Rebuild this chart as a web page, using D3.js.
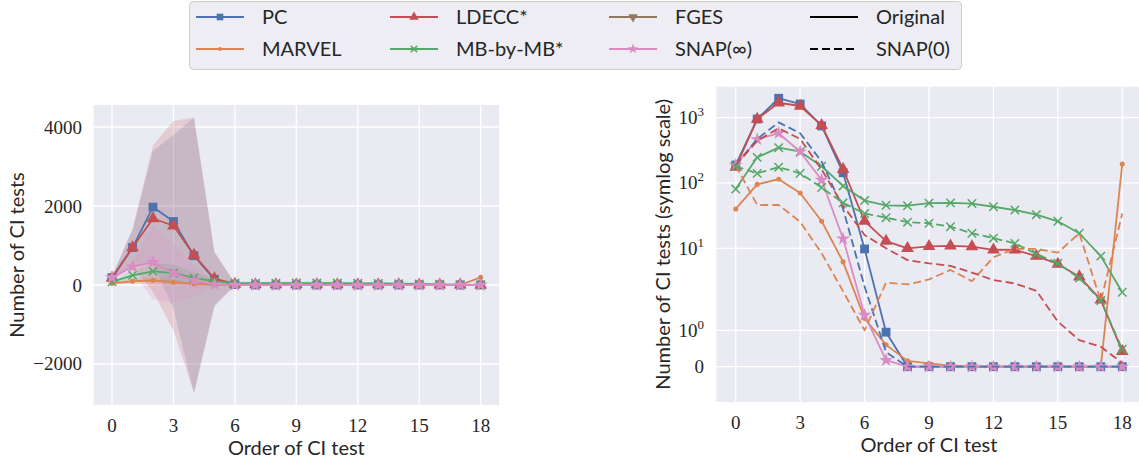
<!DOCTYPE html>
<html>
<head>
<meta charset="utf-8">
<script src="https://cdn.jsdelivr.net/npm/d3@7"></script>
<style>
  body { margin: 0; background: #fff; }
  svg text { fill: #262626; }
  .sans { font-family: 'Lato', sans-serif; font-size: 20px; }
  .serif { font-family: 'Liberation Serif', serif; font-size: 19px; }
</style>
</head>
<body>
<svg id="chart" width="1139" height="461"></svg>
<script>
const orders = [0, 1, 2, 3, 4, 5, 6, 7, 8, 9, 10, 11, 12, 13, 14, 15, 16, 17, 18]
const xTicks = [0, 3, 6, 9, 12, 15, 18]
const leftYTicks = [-2000, 0, 2000, 4000]
const rightYTicks = [0, 1, 10, 100, 1000]
const rightYTickBase = ['0', '10', '10', '10', '10']
const rightYTickExp = ['', '0', '1', '2', '3']
const legendOrder = ['PC', 'MARVEL', 'LDECC*', 'MB-by-MB*', 'FGES', 'SNAP(\u221e)']

// mean number of CI tests per order, original algorithms
const pcOriginal = [188, 948, 1972, 1607, 743, 143, 9.8, 0.95, 0, 0, 0, 0, 0, 0, 0, 0, 0, 0, 0]
const marvelOriginal = [40, 95, 114, 70, 26, 6.2, 1.33, 0.6, 0.16, 0.09, 0.03, 0, 0, 0, 0, 0, 0, 0, 195]
const ldeccOriginal = [174, 947, 1683, 1500, 760, 162, 26, 12.9, 10.0, 10.7, 10.9, 10.6, 9.5, 9.5, 7.6, 5.76, 3.68, 1.84, 0.42]
const mbOriginal = [80.6, 246, 346, 300, 180, 90, 53.7, 45.5, 44.8, 49, 49.5, 48.4, 43.2, 38.5, 32.7, 25.9, 17, 7.6, 2.13]
const snapInfOriginal = [188, 463, 576, 300, 111, 14, 1.42, 0.18, 0, 0, 0, 0, 0, 0, 0, 0, 0, 0, 0]

// same algorithms started from SNAP(0)
const pcSnap0 = [188, 470, 843, 576, 211, 40, 2.6, 0.4, 0, 0, 0, 0, 0, 0, 0, 0, 0, 0, 0]
const marvelSnap0 = [185, 46, 46, 25.5, 8.4, 2.2, 1.0, 3.0, 2.8, 3.35, 4.67, 3.15, 7.3, 9.8, 9.8, 8.6, 17, 1.8, 34]
const ldeccSnap0 = [185, 440, 685, 470, 160, 45, 16, 10, 6.6, 5.9, 5.4, 4.25, 3.27, 2.9, 2.24, 1.24, 0.73, 0.55, 0.1]
const mbSnap0 = [180, 140, 174, 140, 85, 49.6, 34, 29.4, 25.1, 24.2, 21.4, 17, 14.3, 11.9, 8.2, 5.9, 3.5, 1.82, 0.48]

// standard deviation bands (left panel)
const pcStd = [40, 440, 1420, 2200, 3490, 700, 15, 3, 0, 0, 0, 0, 0, 0, 0, 0, 0, 0, 0]
const marvelStd = [25, 70, 90, 70, 40, 10, 3, 1, 0.5, 0.3, 0.1, 0, 0, 0, 0, 0, 0, 0, 0]
const ldeccStd = [40, 480, 1850, 2650, 3480, 660, 40, 20, 15, 15, 15, 15, 12, 12, 10, 8, 6, 4, 1]
const mbStd = [30, 120, 220, 210, 140, 70, 40, 35, 35, 40, 40, 40, 35, 30, 25, 20, 15, 8, 3]
const snapInfStd = [40, 140, 950, 740, 410, 40, 3, 1, 0, 0, 0, 0, 0, 0, 0, 0, 0, 0, 0]

const algos = [
    {name: 'PC', color: '#4C72B0', marker: 'square', orig: pcOriginal, snap0: pcSnap0, std: pcStd},
    {name: 'MARVEL', color: '#DD8452', marker: 'circle', orig: marvelOriginal, snap0: marvelSnap0, std: marvelStd},
    {name: 'LDECC*', color: '#C44E52', marker: 'triangle', orig: ldeccOriginal, snap0: ldeccSnap0, std: ldeccStd},
    {name: 'FGES', color: '#937860', marker: 'triangleDown', orig: null, snap0: null, std: null},
    {name: 'MB-by-MB*', color: '#55A868', marker: 'x', orig: mbOriginal, snap0: mbSnap0, std: mbStd},
    {name: 'SNAP(\u221e)', color: '#DA8BC3', marker: 'star', orig: snapInfOriginal, snap0: null, std: snapInfStd}
]

const svg = d3.select('#chart')
const bg = '#EAEAF2'
const lineWidth = 1.8
const dash = '8,4'

function drawMarker(g, type, x, y, color, scale = 1) {
    if (type === 'x') {
        const r = 4.2 * scale
        g.append('path')
            .attr('d', `M${x - r},${y - r}L${x + r},${y + r}M${x - r},${y + r}L${x + r},${y - r}`)
            .attr('stroke', color)
            .attr('stroke-width', 1.5)
            .attr('fill', 'none')
        return
    }
    let sym = d3.symbolSquare, size = 78, rot = 0
    if (type === 'circle') { sym = d3.symbolCircle; size = 20 }
    if (type === 'triangle') { sym = d3.symbolTriangle; size = 70 }
    if (type === 'triangleDown') { sym = d3.symbolTriangle; size = 70; rot = 180 }
    if (type === 'star') { sym = d3.symbolStar; size = 60 }
    g.append('path')
        .attr('d', d3.symbol().type(sym).size(size * scale * scale)())
        .attr('transform', `translate(${x},${y}) rotate(${rot})`)
        .attr('fill', color)
}

function drawSeries(g, x, y, values, color, marker, dashed) {
    const line = d3.line()
        .x((d, i) => x(orders[i]))
        .y(d => y(d))
    g.append('path')
        .datum(values)
        .attr('d', line)
        .attr('fill', 'none')
        .attr('stroke', color)
        .attr('stroke-width', lineWidth)
        .attr('stroke-linejoin', 'round')
        .attr('stroke-dasharray', dashed ? dash : null)
    if (marker) {
        values.forEach((v, i) => drawMarker(g, marker, x(orders[i]), y(v), color))
    }
}

function drawFrame(g, x, y, x0, x1, y0, y1, yTickValues) {
    g.append('rect')
        .attr('x', x0).attr('y', y1)
        .attr('width', x1 - x0).attr('height', y0 - y1)
        .attr('fill', bg)
    for (const t of xTicks) {
        g.append('line')
            .attr('x1', x(t)).attr('x2', x(t))
            .attr('y1', y1).attr('y2', y0)
            .attr('stroke', '#fff').attr('stroke-width', 1.3)
        g.append('text')
            .attr('class', 'serif')
            .attr('x', x(t)).attr('y', y0 + 27)
            .attr('text-anchor', 'middle')
            .text(t)
    }
    for (const t of yTickValues) {
        g.append('line')
            .attr('x1', x0).attr('x2', x1)
            .attr('y1', y(t)).attr('y2', y(t))
            .attr('stroke', '#fff').attr('stroke-width', 1.3)
    }
    g.append('text')
        .attr('class', 'sans')
        .attr('x', (x0 + x1) / 2).attr('y', y0 + 50)
        .attr('text-anchor', 'middle')
        .text('Order of CI test')
}

// left panel: linear scale with std bands
{
    const x0 = 93.6, x1 = 499.1, yTop = 105, yBot = 405
    const x = d3.scaleLinear().domain([-0.9, 18.9]).range([x0, x1])
    const y = d3.scaleLinear().domain([-3038, 4557]).range([yBot, yTop])
    const g = svg.append('g')
    drawFrame(g, x, y, x0, x1, yBot, yTop, leftYTicks)

    for (const t of leftYTicks) {
        g.append('text')
            .attr('class', 'serif')
            .attr('x', 82).attr('y', y(t) + 6.5)
            .attr('text-anchor', 'end')
            .text(t < 0 ? '\u2212' + Math.abs(t) : t)
    }

    for (const a of algos) {
        if (!a.std) continue
        const area = d3.area()
            .x((d, i) => x(orders[i]))
            .y0((d, i) => y(a.orig[i] - a.std[i]))
            .y1((d, i) => y(a.orig[i] + a.std[i]))
        g.append('path')
            .datum(a.orig)
            .attr('d', area)
            .attr('fill', a.color)
            .attr('fill-opacity', 0.2)
    }
    for (const a of algos) {
        if (!a.orig) continue
        drawSeries(g, x, y, a.orig, a.color, a.marker, false)
    }

    g.append('text')
        .attr('class', 'sans')
        .attr('transform', `translate(24,${(yTop + yBot) / 2}) rotate(-90)`)
        .attr('text-anchor', 'middle')
        .text('Number of CI tests')
}

// right panel: matplotlib style symlog (linthresh 2, linscale 1)
const linthresh = 2
const linscaleAdj = 1 / (1 - 1 / 10)
function symlog(v) {
    const a = Math.abs(v)
    if (a <= linthresh) return v * linscaleAdj
    return Math.sign(v) * linthresh * (linscaleAdj + Math.log10(a / linthresh))
}

{
    const x0 = 716.4, x1 = 1141.6, yTop = 86.7, yBot = 402
    const x = d3.scaleLinear().domain([-0.9, 18.9]).range([x0, x1])
    const yLin = d3.scaleLinear().domain([-1.08, 8.563]).range([yBot, yTop])
    const y = v => yLin(symlog(v))
    const g = svg.append('g')
    drawFrame(g, x, y, x0, x1, yBot, yTop, rightYTicks)

    rightYTicks.forEach((t, i) => {
        const txt = g.append('text')
            .attr('class', 'serif')
            .attr('x', 704).attr('y', y(t) + 6.5)
            .attr('text-anchor', 'end')
        txt.append('tspan').text(rightYTickBase[i])
        if (rightYTickExp[i]) {
            txt.append('tspan')
                .attr('dy', -8)
                .attr('font-size', 13)
                .text(rightYTickExp[i])
        }
    })

    for (const a of algos) {
        if (!a.orig) continue
        drawSeries(g, x, y, a.orig, a.color, a.marker, false)
    }
    for (const a of algos) {
        if (!a.snap0) continue
        drawSeries(g, x, y, a.snap0, a.color, a.marker === 'x' ? 'x' : null, true)
    }

    g.append('text')
        .attr('class', 'sans')
        .attr('transform', `translate(670,${(yTop + yBot) / 2}) rotate(-90)`)
        .attr('text-anchor', 'middle')
        .text('Number of CI tests (symlog scale)')
}

// legend, filled column by column like matplotlib
{
    const g = svg.append('g')
    g.append('rect')
        .attr('x', 189.5).attr('y', 1.5)
        .attr('width', 772).attr('height', 68)
        .attr('rx', 4)
        .attr('fill', '#EDEDF3')
        .attr('stroke', '#CCCCCC')

    const colX = [196, 390, 609, 810]
    const rowY = [17, 49]
    const handleLen = 48
    const textPad = 18

    legendOrder.forEach((name, i) => {
        const a = algos.find(d => d.name === name)
        const col = Math.floor(i / 2), row = i % 2
        const hx = colX[col], hy = rowY[row]
        g.append('line')
            .attr('x1', hx).attr('x2', hx + handleLen)
            .attr('y1', hy).attr('y2', hy)
            .attr('stroke', a.color)
            .attr('stroke-width', lineWidth)
        drawMarker(g, a.marker, hx + handleLen / 2, hy, a.color, 0.75)
        g.append('text')
            .attr('class', 'sans')
            .attr('x', hx + handleLen + textPad).attr('y', hy + 7)
            .text(a.name)
    })

    const styles = [{name: 'Original', dashed: false}, {name: 'SNAP(0)', dashed: true}]
    styles.forEach((s, row) => {
        const hx = colX[3], hy = rowY[row]
        g.append('line')
            .attr('x1', hx).attr('x2', hx + handleLen)
            .attr('y1', hy).attr('y2', hy)
            .attr('stroke', '#000')
            .attr('stroke-width', 2.2)
            .attr('stroke-dasharray', s.dashed ? dash : null)
        g.append('text')
            .attr('class', 'sans')
            .attr('x', hx + handleLen + textPad).attr('y', hy + 7)
            .text(s.name)
    })
}
</script>
</body>
</html>
